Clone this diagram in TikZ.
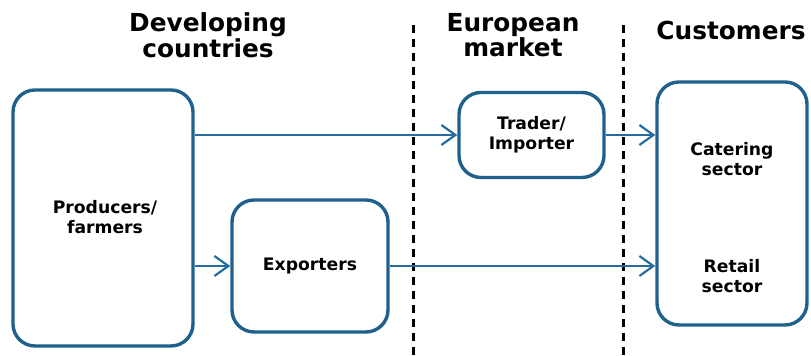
\documentclass[tikz,border=0pt]{standalone}
\usepackage{fontspec}
\setmainfont{DejaVu Sans}
\usepackage{xcolor}
\usetikzlibrary{arrows.meta}
\usetikzlibrary{positioning}
\usetikzlibrary{calc}

\definecolor{boxblue}{RGB}{31,96,140}
\definecolor{arrowblue}{RGB}{38,108,158}

\tikzset{
  chainbox/.style = {draw=boxblue, line width=1.7pt, rounded corners=11pt,
    fill=white, inner sep=0pt},
  boxtext/.style = {font=\bfseries\fontsize{8.6}{10}\selectfont, align=center},
  headtext/.style = {font=\bfseries\fontsize{12.4}{12.8}\selectfont, align=center},
  flow/.style = {draw=arrowblue, line width=1.1pt,
    -{Straight Barb[length=7pt,width=10pt,line width=1.1pt]}},
  border/.style = {line width=1.5pt, dash pattern=on 4pt off 3pt}
}

\begin{document}
\begin{tikzpicture}[x=0.5pt,y=-0.5pt]
  \useasboundingbox (0,0) rectangle (811,356);

  % column headings
  \node[headtext] (hdev) at (208,35) {Developing\\countries};
  \node[headtext] (heur) at (513,35) {European\\market};
  \node[headtext] (hcus) at (731,30) {Customers};

  % borders between the markets
  \draw[border] (413,25) -- (413,356);
  \draw[border] (623,25) -- (623,356);

  % the chain
  \node[chainbox, minimum width=90pt, minimum height=128pt] (prod) at (103,218) {};
  \node[boxtext] (prodtxt) at (105,217) {Producers/\\farmers};
  \node[chainbox, minimum width=78pt, minimum height=66pt, boxtext] (exp) at (310,266) {Exporters};
  \node[chainbox, minimum width=72.5pt, minimum height=42.5pt, boxtext] (trader) at (531.5,135) {Trader/\\Importer};
  \node[chainbox, minimum width=75pt, minimum height=121.5pt] (cust) at (732,203.5) {};
  \node[boxtext] (cater) at (732,159) {Catering\\sector};
  \node[boxtext] (retail) at (732,276) {Retail\\sector};

  % flows
  \draw[flow] (prod.east |- trader.west) -- (trader.west);
  \draw[flow] (trader.east) -- (cust.west |- trader.east);
  \draw[flow] (prod.east |- exp.west) -- (exp.west);
  \draw[flow] (exp.east) -- (cust.west |- exp.east);
\end{tikzpicture}
\end{document}
